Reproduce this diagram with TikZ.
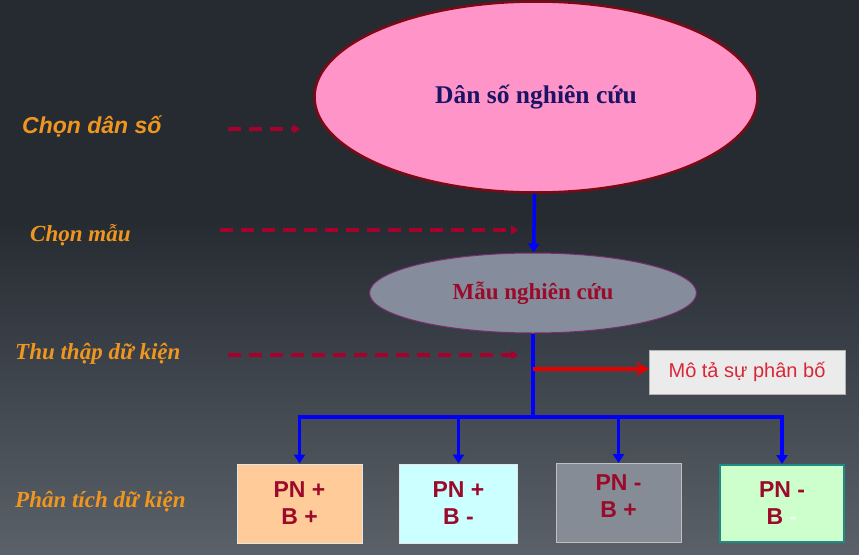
\documentclass[tikz,border=0pt]{standalone}
\usepackage{fontspec}
\setmainfont{Liberation Serif}
\setsansfont{Liberation Sans}
\usepackage{tikz}
\usetikzlibrary{shapes.geometric, arrows.meta, positioning}
\definecolor{bgtop}{HTML}{262B32}
\definecolor{bgbot}{HTML}{5A6169}
\definecolor{stepcol}{HTML}{F0961E}
\definecolor{guidecol}{HTML}{A8002C}
\definecolor{flowblue}{HTML}{0000FF}
\definecolor{popfill}{HTML}{FF94C8}
\definecolor{popline}{HTML}{7A0A14}
\definecolor{popnavy}{HTML}{1B1464}
\definecolor{smpfill}{HTML}{858C9B}
\definecolor{smpline}{HTML}{7B2C6E}
\definecolor{darkred}{HTML}{9B0A2A}
\definecolor{peach}{HTML}{FFCC99}
\definecolor{paleblue}{HTML}{CCFFFF}
\definecolor{greybox}{HTML}{868C96}
\definecolor{palegreen}{HTML}{CCFFCC}
\definecolor{tealline}{HTML}{1E8C82}
\definecolor{distred}{HTML}{D82838}
\tikzset{
flow/.style={draw=flowblue, line width=3.5pt, -{Triangle[length=9pt,width=11pt]}}, % blue connectors
trunk/.style={draw=flowblue, line width=3.5pt}, % blue line without tip
guide/.style={draw=guidecol, line width=3.5pt, dash pattern=on 13pt off 8pt, -{Triangle[length=7pt,width=9pt]}}, % dashed step arrows
steplabel/.style={text=stepcol, font=\fontsize{23}{27}\selectfont\bfseries\itshape, anchor=base west, inner sep=0pt}, % orange step names
resbox/.style={draw=black!10, line width=1pt, minimum width=125pt, minimum height=79pt, align=center, text=darkred, font=\sffamily\bfseries\fontsize{23}{27}\selectfont}, % result boxes
}

\begin{document}
\begin{tikzpicture}[x=1pt, y=-1pt]
        \useasboundingbox (0,0) rectangle (859,554);
        \fill[bgtop] (0,0) rectangle (859,220);
        \shade[top color=bgtop, bottom color=bgbot] (0,219.5) rectangle (859,554);
        % step names on the left
        \node[steplabel, font=\sffamily\fontsize{23}{27}\selectfont\bfseries\itshape] at (22,133) (l1) {Chọn dân số};
        \node[steplabel] at (30,241) (l2) {Chọn mẫu};
        \node[steplabel] at (15,359) (l3) {Thu thập dữ kiện};
        \node[steplabel] at (15,507) (l4) {Phân tích dữ kiện};
        % ovals
        \node[ellipse, draw=popline, line width=2.5pt, fill=popfill, minimum width=443pt, minimum height=191pt, text=popnavy, font=\bfseries\fontsize{25.5}{30}\selectfont] at (536,97) (pop) {Dân số nghiên cứu};
        \node[ellipse, draw=smpline, line width=1pt, fill=smpfill, minimum width=327pt, minimum height=80pt, text=darkred, font=\bfseries\fontsize{23}{27}\selectfont] at (533,293) (sample) {Mẫu nghiên cứu};
        \node[draw=black!30, fill=black!8, minimum width=196pt, minimum height=44pt, text=distred, font=\sffamily\fontsize{20}{24}\selectfont] at (747,372) (dist) {Mô tả sự phân bố};
        % results
        \node[resbox, fill=peach] at (299.5,503.5) (r1) {PN +\\B +};
        \node[resbox, fill=paleblue, minimum width=118pt] at (458.5,503.5) (r2) {PN +\\B -};
        \node[resbox, fill=greybox, draw=black!25, inner ysep=2pt, text depth=14pt] at (618.5,503) (r3) {PN -\\B +};
        \node[resbox, fill=palegreen, draw=tealline, line width=2pt, minimum width=124pt, minimum height=77pt] at (782,503.5) (r4) {PN -\\B {\color{green!6}-}};
        \coordinate (tap) at (533,369);
        \coordinate (split) at (533,417);
        \coordinate (d1s) at (228,129);
        \coordinate (d1e) at (300,129);
        \coordinate (d2s) at (220,230);
        \coordinate (d2e) at (518,230);
        \coordinate (d3s) at (228,355);
        \coordinate (d3e) at (518,355);
        \draw[guide] (d1s) -- (d1e);
        \draw[guide] (d2s) -- (d2e);
        \draw[guide] (d3s) -- (d3e);
        \draw[flow] (pop) -- (sample);
        \draw[trunk] (sample) -- (split);
        \foreach \r in {r1,r2,r3,r4}
            \draw[flow] (split) -| (\r);
        \draw[draw=red!90!black, line width=3.5pt, -{Stealth[length=13pt,width=15pt,inset=5pt]}] (tap) -- (dist.west |- tap);
    \end{tikzpicture}
\end{document}
